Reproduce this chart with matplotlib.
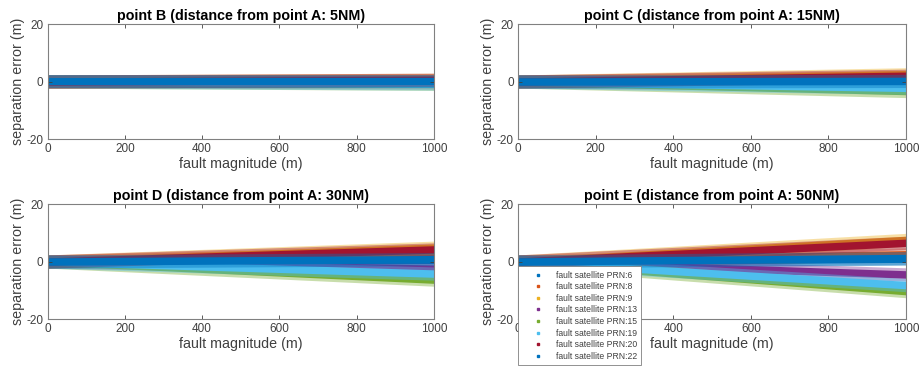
import matplotlib
matplotlib.use('Agg')
import matplotlib.pyplot as plt
from matplotlib.lines import Line2D

plt.rcParams['font.family'] = ['Liberation Sans', 'DejaVu Sans']
plt.rcParams['axes.unicode_minus'] = False

# satellites and MATLAB default colour order (cycle wraps for the 8th)
prn_labels = ['fault satellite PRN:6', 'fault satellite PRN:8', 'fault satellite PRN:9',
              'fault satellite PRN:13', 'fault satellite PRN:15', 'fault satellite PRN:19',
              'fault satellite PRN:20', 'fault satellite PRN:22']
colors = ['#0072BD', '#D95319', '#EDB120', '#7E2F8E', '#77AC30', '#4DBEEE', '#A2142F', '#0072BD']

titles = ['point B (distance from point A: 5NM)', 'point C (distance from point A: 15NM)',
          'point D (distance from point A: 30NM)', 'point E (distance from point A: 50NM)']

# fault magnitude range (m)
fault_x = [0, 1000]

# mean separation error at fault magnitude 0 and 1000 m
err_B = [[0, 0.0], [0, 0.4], [0, 0.6], [0, -0.3], [0, -0.8], [0, -0.7], [0, 0.6], [0, 0.0]]
err_C = [[0, 0.0], [0, 1.5], [0, 2.5], [0, -1.0], [0, -3.3], [0, -2.2], [0, 2.0], [0, 0.2]]
err_D = [[0, 0.6], [0, 3.0], [0, 4.8], [0, -2.5], [0, -6.3], [0, -4.2], [0, 4.2], [0, 0.8]]
err_E = [[0, 1.0], [0, 2.5], [0, 7.5], [0, -4.5], [0, -10.3], [0, -8.2], [0, 6.5], [0, 1.2]]

# dense core and sparse outer spread of each cloud (m)
core_spread = [1.3, 1.3, 1.3, 1.3, 1.3, 1.3, 1.3, 1.3]
outer_spread = [2.3, 2.3, 2.3, 2.3, 2.3, 2.3, 2.3, 2.3]

panels = [err_B, err_C, err_D, err_E]

fig = plt.figure(figsize=(9.19, 3.66), dpi=100)
positions = [[0.0517, 0.6202, 0.4206, 0.3142], [0.5637, 0.6202, 0.4222, 0.3142],
             [0.0517, 0.1284, 0.4206, 0.3142], [0.5637, 0.1284, 0.4222, 0.3142]]

axes = []
for pos, title, data in zip(positions, titles, panels):
    ax = fig.add_axes(pos)
    for vals, w_in, w_out, c in zip(data, core_spread, outer_spread, colors):
        ax.fill_between(fault_x, [v - w_out for v in vals], [v + w_out for v in vals],
                        color=c, lw=0, alpha=0.4)
        ax.fill_between(fault_x, [v - w_in for v in vals], [v + w_in for v in vals],
                        color=c, lw=0)
    ax.set_xlim(0, 1000)
    ax.set_ylim(-20, 20)
    ax.set_xticks([0, 200, 400, 600, 800, 1000])
    ax.set_yticks([-20, 0, 20])
    ax.tick_params(direction='in', top=True, right=True, labelsize=8.5,
                   colors='#404040', length=3, width=0.6, pad=3)
    for s in ax.spines.values():
        s.set_color('#808080')
        s.set_linewidth(0.8)
    ax.set_xlabel('fault magnitude (m)', fontsize=10.3, color='#404040', labelpad=1)
    ax.set_ylabel('separation error (m)', fontsize=10.3, color='#404040', labelpad=1)
    ax.set_title(title, fontsize=10.3, fontweight='bold', pad=3)
    axes.append(ax)

handles = [Line2D([], [], ls='none', marker='s', ms=2, color=c) for c in colors]
leg = axes[3].legend(handles, prn_labels, loc='lower left', bbox_to_anchor=(0.0, -0.40),
                     borderaxespad=0, fontsize=6.2, frameon=True, fancybox=False, framealpha=1,
                     handlelength=3.6, labelspacing=0.3, borderpad=0.5, handletextpad=0.3)
leg.get_frame().set_edgecolor('#808080')
leg.get_frame().set_linewidth(0.6)
for t in leg.get_texts():
    t.set_color('#404040')

fig.savefig('out.png', dpi=100)
